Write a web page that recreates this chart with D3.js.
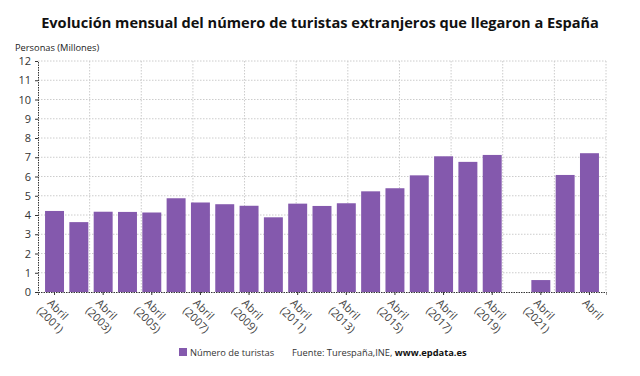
<!DOCTYPE html>
<html><head><meta charset="utf-8">
<script src="https://cdn.jsdelivr.net/npm/d3@7"></script>
<style>
body{margin:0;background:#fff;}
svg{display:block;font-family:"Open Sans",sans-serif;}
</style></head><body>
<svg id="c" width="640" height="376"></svg>
<script>
const years = ["2001","2002","2003","2004","2005","2006","2007","2008","2009","2010","2011","2012","2013","2014","2015","2016","2017","2018","2019","2020","2021","2022","2023"];
const values = [4.21,3.63,4.17,4.16,4.13,4.87,4.65,4.56,4.48,3.88,4.59,4.47,4.61,5.23,5.39,6.06,7.05,6.76,7.12,null,0.62,6.08,7.21];
const tickYears = ["2001","2003","2005","2007","2009","2011","2013","2015","2017","2019","2021","2023"];
const tickLabels = ["(2001)","(2003)","(2005)","(2007)","(2009)","(2011)","(2013)","(2015)","(2017)","(2019)","(2021)",""];
const yTicks = [0,1,2,3,4,5,6,7,8,9,10,11,12];

const svg = d3.select("#c");
const L=38,R=606,T=61,B=292;
const x = d3.scaleBand().domain(years).range([L,R]).paddingInner(0.22).paddingOuter(0.29);
const y = d3.scaleLinear().domain([0,12]).range([B,T]);
const xg = d3.scaleLinear().domain([0,11]).range([L,R]);

svg.append("text").attr("x",320).attr("y",28).attr("text-anchor","middle")
  .attr("font-size",14.6).attr("font-weight","bold").attr("fill","#111")
  .text("Evolución mensual del número de turistas extranjeros que llegaron a España");
svg.append("text").attr("x",15).attr("y",51).attr("font-size",9.3).attr("fill","#222")
  .text("Personas (Millones)");

// grid
const g = svg.append("g");
g.selectAll("line.h").data(yTicks.filter(d=>d>0)).join("line")
  .attr("x1",L).attr("x2",R).attr("y1",d=>y(d)).attr("y2",d=>y(d))
  .attr("stroke","#ccc").attr("stroke-dasharray","1.5,1.5");
g.selectAll("line.v").data(d3.range(1,12)).join("line")
  .attr("x1",d=>xg(d)).attr("x2",d=>xg(d)).attr("y1",T).attr("y2",B)
  .attr("stroke","#ccc").attr("stroke-dasharray","1.5,1.5");

// bars
svg.append("g").selectAll("rect").data(years.map((yr,i)=>({yr,v:values[i]})).filter(d=>d.v!=null)).join("rect")
  .attr("x",d=>x(d.yr)).attr("width",x.bandwidth())
  .attr("y",d=>y(d.v)).attr("height",d=>y(0)-y(d.v))
  .attr("fill","#8459ad");

// y axis
const ya = svg.append("g").attr("transform",`translate(${L},0)`)
  .call(d3.axisLeft(y).tickValues(yTicks).tickSize(3).tickPadding(4));
ya.select(".domain").attr("stroke","#333").attr("stroke-dasharray","1.5,1");
ya.selectAll(".tick line").attr("stroke","#333");
ya.selectAll(".tick text").attr("font-size",11).attr("fill","#333").attr("font-family","Open Sans, sans-serif");

// x axis
const xa = svg.append("g").attr("transform",`translate(0,${B})`)
  .call(d3.axisBottom(x).tickValues(tickYears).tickSize(3).tickFormat(""));
xa.select(".domain").attr("stroke","#333").attr("stroke-dasharray","1.5,1");
xa.selectAll(".tick line").attr("stroke","#333");
tickYears.forEach((yr,i)=>{
  const cx = x(yr)+x.bandwidth()/2;
  const t = svg.append("text").attr("transform",`translate(${cx-2},${B+6}) rotate(45)`)
    .attr("font-size",11).attr("fill","#444");
  t.append("tspan").attr("x",0).attr("dy","0.75em").text("Abril");
  if(tickLabels[i]) t.append("tspan").attr("x",-2).attr("dy","1.15em").text(tickLabels[i]);
});

// legend
svg.append("rect").attr("x",179).attr("y",348).attr("width",8).attr("height",8).attr("fill","#8459ad");
svg.append("text").attr("x",190).attr("y",356).attr("font-size",9.3).attr("fill","#333").text("Número de turistas");
const src = svg.append("text").attr("x",292).attr("y",356).attr("font-size",9.3).attr("fill","#333");
src.append("tspan").text("Fuente: Turespaña,INE, ");
src.append("tspan").attr("font-weight","bold").attr("fill","#111").text("www.epdata.es");
</script></body></html>
